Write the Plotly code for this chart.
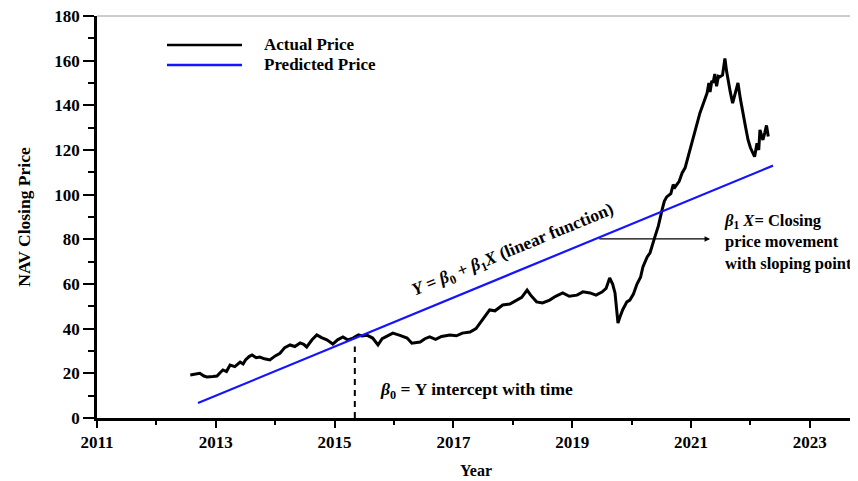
import plotly.graph_objects as go

# Actual NAV closing price (year, value)
actual_year = [2012.57, 2012.65, 2012.73, 2012.80, 2012.85, 2012.95, 2013.02, 2013.08, 2013.12, 2013.18, 2013.24,
               2013.32, 2013.41, 2013.46, 2013.50, 2013.56, 2013.61, 2013.68, 2013.74, 2013.82, 2013.91, 2014.00, 2014.08,
               2014.16, 2014.25, 2014.33, 2014.42, 2014.48, 2014.53, 2014.62, 2014.70, 2014.78, 2014.87,
               2014.97, 2015.05, 2015.14, 2015.22, 2015.31, 2015.40, 2015.46, 2015.55, 2015.64, 2015.73,
               2015.80, 2015.90, 2015.98, 2016.10, 2016.22, 2016.30, 2016.44, 2016.52, 2016.60, 2016.70,
               2016.80, 2016.94, 2017.05, 2017.15, 2017.28, 2017.38, 2017.45, 2017.53, 2017.61, 2017.70,
               2017.83, 2017.95, 2018.07, 2018.15, 2018.24, 2018.30, 2018.40, 2018.50, 2018.62, 2018.72,
               2018.84, 2018.95, 2019.08, 2019.18, 2019.30, 2019.40, 2019.50, 2019.57, 2019.63, 2019.68,
               2019.72, 2019.75, 2019.77, 2019.80, 2019.85, 2019.92, 2019.97, 2020.03, 2020.09, 2020.15,
               2020.19, 2020.26, 2020.31, 2020.39, 2020.45, 2020.51, 2020.55, 2020.59, 2020.66, 2020.70, 2020.73,
               2020.80, 2020.85, 2020.90, 2020.95, 2021.03, 2021.09, 2021.15, 2021.21, 2021.27, 2021.30, 2021.32,
               2021.35, 2021.37, 2021.40, 2021.43, 2021.46, 2021.48, 2021.53, 2021.57, 2021.60, 2021.62, 2021.66, 2021.70, 2021.74,
               2021.79, 2021.83, 2021.87, 2021.92, 2021.96, 2022.00, 2022.04, 2022.07, 2022.11, 2022.14,
               2022.16, 2022.19, 2022.21, 2022.24, 2022.27, 2022.30]
actual_price = [19.3, 19.8, 20.0, 18.8, 18.4, 18.6, 18.8, 20.5, 21.5, 20.8, 23.7,
                23.0, 25.0, 24.2, 26.0, 27.5, 28.2, 27.0, 27.3, 26.5, 26.0, 27.8, 29.0,
                31.5, 32.7, 32.0, 33.6, 33.0, 31.8, 35.0, 37.2, 36.0, 35.0,
                33.1, 35.0, 36.3, 35.0, 35.8, 37.2, 36.7, 37.0, 35.8, 32.7,
                35.5, 37.0, 38.0, 37.0, 35.8, 33.5, 34.0, 35.5, 36.3, 35.2,
                36.5, 37.2, 36.8, 38.0, 38.5, 40.0, 42.5, 45.5, 48.4, 48.0,
                50.6, 51.0, 52.8, 54.0, 57.3, 55.0, 52.0, 51.5, 52.8, 54.5,
                56.0, 54.5, 55.0, 56.5, 56.0, 55.0, 56.4, 58.0, 62.7, 60.0,
                56.0, 47.0, 42.5, 45.0, 48.5, 52.0, 52.8, 55.5, 60.0, 63.0,
                67.6, 72.0, 74.0, 81.0, 86.0, 93.0, 97.0, 99.0, 100.5, 104.5, 103.4,
                106.0, 109.7, 112.0, 117.0, 124.5, 130.0, 136.6, 141.0, 145.5, 150.0, 146.0,
                151.0, 150.0, 154.0, 148.5, 153.0, 152.7, 153.5, 161.0, 155.0, 151.4, 146.0, 141.0, 145.0,
                150.0, 143.0, 136.6, 130.0, 124.5, 121.0, 118.7, 117.0, 123.0, 120.0,
                129.0, 126.0, 124.5, 127.6, 131.0, 126.0]

# Predicted (linear) price
pred_year = [2012.70, 2022.38]
pred_price = [6.7, 113.0]

# Intercept marker
intercept_year = 2015.34
intercept_value = 32

y_ticks = [0, 20, 40, 60, 80, 100, 120, 140, 160, 180]
x_ticks = [2011, 2013, 2015, 2017, 2019, 2021, 2023]

FONT = "Liberation Serif"
BLUE = "#1414ff"

fig = go.Figure()
fig.add_trace(go.Scatter(x=actual_year, y=actual_price, mode="lines", name="Actual Price",
                         line=dict(color="black", width=3), showlegend=False))
fig.add_trace(go.Scatter(x=pred_year, y=pred_price, mode="lines", name="Predicted Price",
                         line=dict(color=BLUE, width=2.2), showlegend=False))

# dashed intercept line
fig.add_shape(type="line", x0=intercept_year, x1=intercept_year, y0=0, y1=intercept_value,
              xref="x", yref="y", line=dict(color="black", width=2, dash="6px,5px"))
# thin top border
fig.add_shape(type="line", x0=0, x1=1, y0=1, y1=1, xref="paper", yref="paper",
              line=dict(color="#9a9a9a", width=1))

# manual legend (positions in page pixels converted to paper fractions)
leg = [("Actual Price", "black", 45), ("Predicted Price", BLUE, 65)]
for txt, col, py in leg:
    yp = 1 - (py - 16) / 402
    x0p = (167 - 97) / 758
    x1p = (242 - 97) / 758
    fig.add_shape(type="line", x0=x0p, x1=x1p, y0=yp, y1=yp, xref="paper", yref="paper",
                  line=dict(color=col, width=2.5))
    fig.add_annotation(x=(262 - 97) / 758, y=yp, xref="paper", yref="paper", text=txt,
                       showarrow=False, xanchor="left", yanchor="middle",
                       font=dict(family=FONT, size=17, color="black", weight="bold"))

# rotated equation label
fig.add_annotation(x=2018.0, y=75.0, xref="x", yref="y",
                   text="<i>Y</i> = <i>β</i><sub>0</sub> + <i>β</i><sub>1</sub><i>X</i> (linear function)",
                   textangle=-22.4, showarrow=False,
                   font=dict(family=FONT, size=17.5, color="black", weight="bold"))

# arrow
fig.add_annotation(x=2021.32, y=80.2, ax=2019.43, ay=80.2, xref="x", yref="y", axref="x", ayref="y",
                   text="", showarrow=True, arrowhead=2, arrowsize=1, arrowwidth=1.1, arrowcolor="black")

fig.add_annotation(x=2021.52, y=78.8, xref="x", yref="y",
                   text="<i>β</i><sub>1</sub> <i>X</i>= Closing<br>price movement<br>with sloping point",
                   showarrow=False, xanchor="left", yanchor="middle", align="left",
                   font=dict(family=FONT, size=16.5, color="black", weight="bold"))

fig.add_annotation(x=2015.73, y=12.5, xref="x", yref="y",
                   text="<i>β</i><sub>0</sub> = Y intercept with time",
                   showarrow=False, xanchor="left", yanchor="middle",
                   font=dict(family=FONT, size=17.5, color="black", weight="bold"))

# page body has an 8px margin: the figure is placed at (8, 8)
fig.update_layout(
    width=850, height=473,
    margin=dict(l=89, r=3, t=8, b=63, autoexpand=False),
    paper_bgcolor="white", plot_bgcolor="white",
    font=dict(family=FONT, color="black"),
    xaxis=dict(range=[2011, 2023.76], tickvals=x_ticks, ticktext=[str(v) for v in x_ticks],
               automargin=False, ticklabeloverflow="allow",
               showgrid=False, zeroline=False, showline=True, linecolor="black", linewidth=2.5,
               ticks="outside", ticklen=7, tickwidth=2, tickcolor="black",
               minor=dict(dtick=1, tick0=2011, ticks="outside", ticklen=4, tickwidth=2, tickcolor="black"),
               tickfont=dict(family=FONT, size=17, color="black", weight="bold"),
               title=dict(text="Year", font=dict(family=FONT, size=16, color="black", weight="bold"),
                          standoff=14)),
    yaxis=dict(range=[0, 180], tickvals=y_ticks, ticktext=[str(v) for v in y_ticks],
               automargin=False, ticklabeloverflow="allow",
               showgrid=False, zeroline=False, showline=True, linecolor="black", linewidth=2.5,
               ticks="outside", ticklen=11, tickwidth=1.5, tickcolor="black",
               minor=dict(dtick=10, tick0=0, ticks="outside", ticklen=6, tickwidth=1.5, tickcolor="black"),
               tickfont=dict(family=FONT, size=17, color="black", weight="bold"),
               title=dict(text="NAV Closing Price", font=dict(family=FONT, size=17.5, color="black", weight="bold"),
                          standoff=20)),
)

fig.write_html("out.html")
